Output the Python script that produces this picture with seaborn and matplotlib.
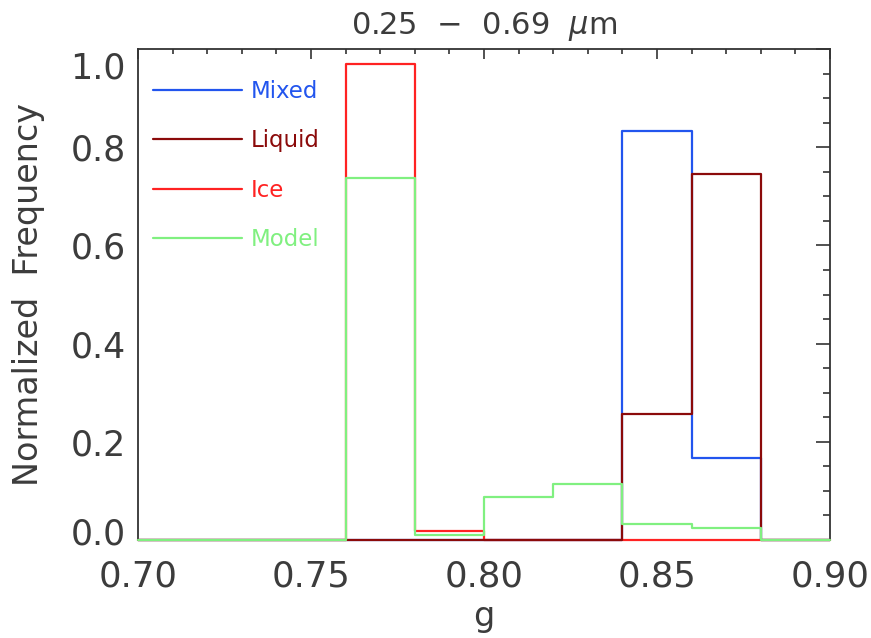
import numpy as np
import pandas as pd
import matplotlib
matplotlib.use("Agg")
import matplotlib.pyplot as plt
import matplotlib.transforms as mtransforms
import seaborn as sns
from matplotlib.ticker import MultipleLocator

# ---- data ----
bin_edges = [0.70, 0.72, 0.74, 0.76, 0.78, 0.80, 0.82, 0.84, 0.86, 0.88, 0.90]
bin_centers = [0.71, 0.73, 0.75, 0.77, 0.79, 0.81, 0.83, 0.85, 0.87, 0.89]
mixed = [0.0, 0.0, 0.0, 0.0, 0.0, 0.0, 0.0, 0.832, 0.167, 0.0]
liquid = [0.0, 0.0, 0.0, 0.0, 0.0, 0.0, 0.0, 0.256, 0.746, 0.0]
ice = [0.0, 0.0, 0.0, 0.970, 0.019, 0.0, 0.0, 0.0, 0.0, 0.0]
model = [0.0, 0.0, 0.0, 0.737, 0.010, 0.087, 0.114, 0.032, 0.024, 0.0]
series_names = ["Mixed", "Liquid", "Ice", "Model"]
draw_order = ["Mixed", "Ice", "Liquid", "Model"]
colors = {"Mixed": "#2255ee", "Liquid": "#8b0a0a", "Ice": "#ff2222", "Model": "#80f080"}
title = r"0.25  $-$  0.69  $\mu$m"
xticks = [0.70, 0.75, 0.80, 0.85, 0.90]
yticks = [0.0, 0.2, 0.4, 0.6, 0.8, 1.0]

values = {"Mixed": mixed, "Liquid": liquid, "Ice": ice, "Model": model}
df = pd.concat(
    [pd.DataFrame({"g": bin_centers, "freq": values[n], "type": n}) for n in series_names],
    ignore_index=True,
)

sns.set_style("white")
plt.rcParams["font.family"] = ["DejaVu Sans"]
plt.rcParams["mathtext.fontset"] = "dejavusans"

fig = plt.figure(figsize=(8.71, 6.38), dpi=100)
ax = fig.add_axes([138 / 871, 1 - 540 / 638, (830 - 138) / 871, (540 - 49) / 638])

handles = {}
for name in draw_order:
    sub = df[df["type"] == name]
    sns.histplot(data=sub, x="g", weights="freq", bins=bin_edges, element="step",
                 fill=False, color=colors[name], linewidth=1.6, ax=ax, label=name)
    ln = ax.lines[-1]
    ln.set_clip_on(False)
    ln.set_zorder(3)
    handles[name] = ln

ax.set_xlim(0.70, 0.90)
ax.set_ylim(0.0, 1.0)
ax.set_xticks(xticks)
ax.set_xticklabels([f"{t:.2f}" for t in xticks])
ax.set_yticks(yticks)
ax.set_yticklabels([f"{t:.1f}" for t in yticks])
ax.xaxis.set_minor_locator(MultipleLocator(0.01))
ax.yaxis.set_minor_locator(MultipleLocator(0.05))

txt_col = "#3c3c3c"
for s in ax.spines.values():
    s.set_color("#333333")
    s.set_linewidth(1.3)
ax.tick_params(which="both", direction="in", top=True, right=True, color="#333333", width=1.2)
ax.tick_params(axis="x", which="major", length=7)
ax.tick_params(axis="x", which="minor", length=3.5)
ax.tick_params(axis="y", which="major", length=10)
ax.tick_params(axis="y", which="minor", length=5)
ax.tick_params(axis="x", which="major", labelsize=25.5, pad=14, labelcolor=txt_col)
ax.tick_params(axis="y", which="major", labelsize=25, pad=9, labelcolor=txt_col)

# IDL-style: end labels nudged inward
ylabels = ax.get_yticklabels()
ylabels[-1].set_transform(ylabels[-1].get_transform() +
                          mtransforms.ScaledTranslation(0, -16 / 100, fig.dpi_scale_trans))
ylabels[0].set_transform(ylabels[0].get_transform() +
                         mtransforms.ScaledTranslation(0, 9 / 100, fig.dpi_scale_trans))

ax.set_xlabel("g", fontsize=24, color=txt_col, labelpad=5)
ax.set_ylabel("Normalized  Frequency", fontsize=24, color=txt_col, labelpad=18)
ax.set_title(title, fontsize=22, color=txt_col, pad=11)

leg = ax.legend(handles=[handles[n] for n in series_names], labels=series_names,
                loc="upper left", bbox_to_anchor=(0.0212, 0.937), frameon=False,
                fontsize=16.5, handlelength=3.9, handletextpad=0.4, labelspacing=1.15,
                borderpad=0, borderaxespad=0, labelcolor="linecolor")

fig.savefig("out.png", dpi=100)
